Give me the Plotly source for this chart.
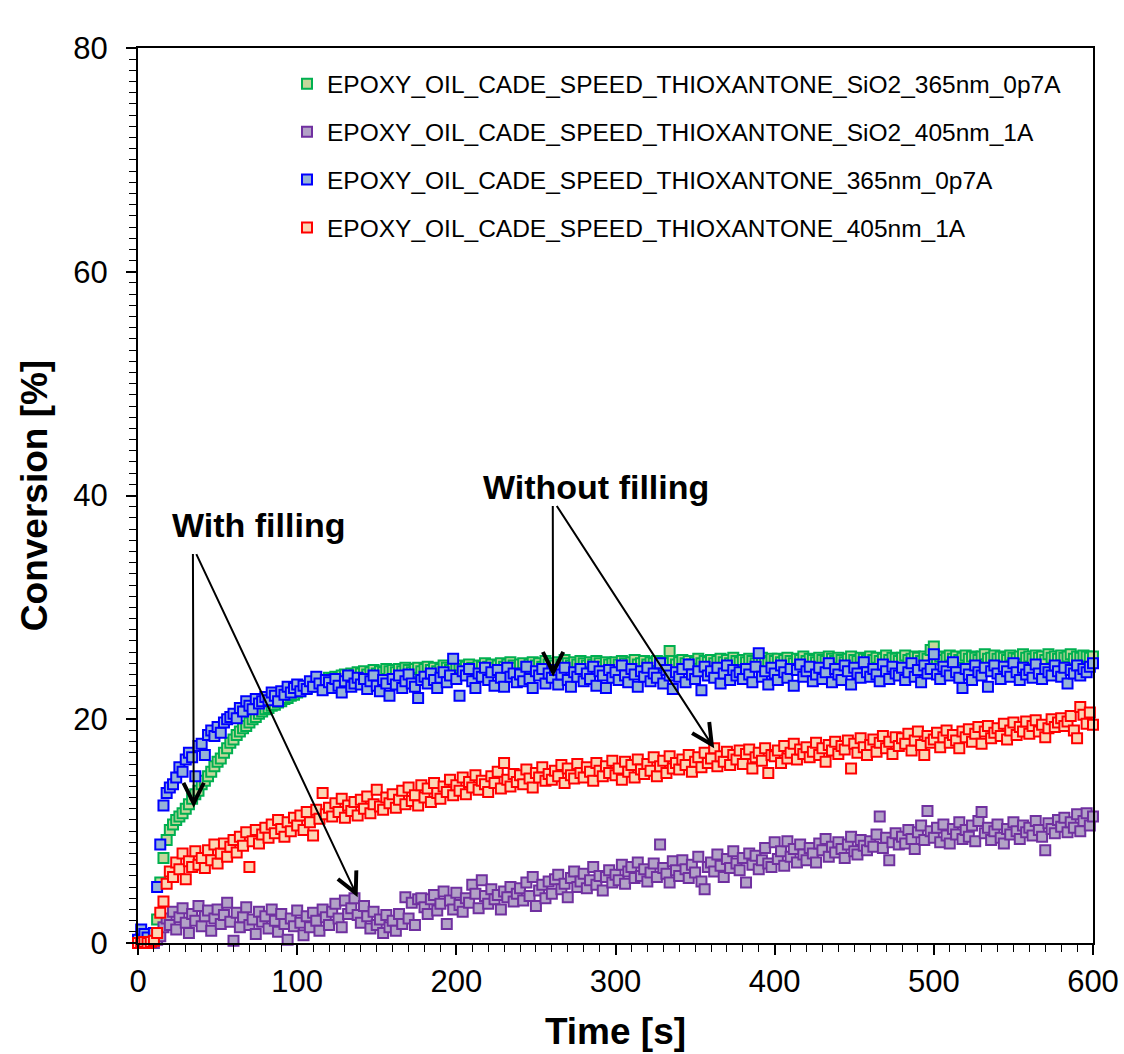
import plotly.graph_objects as go

# Sampling times [s]
TIME_S = list(range(0, 601, 2))

# Conversion [%] for each formulation, one value per sampling time
CONV_SIO2_365 = [
    0.0, 0.2, 0.1, 0.3, 0.2, 0.4, 2.1, 5.4, 7.6, 9.2,
    10.1, 10.6, 11.0, 11.3, 11.6, 12.0, 12.4, 12.9, 13.3, 13.6,
    14.2, 14.5, 14.9, 15.3, 15.8, 16.2, 16.5, 17.0, 17.4, 17.9,
    18.2, 18.6, 18.9, 19.2, 19.4, 19.7, 20.0, 20.2, 20.5, 20.7,
    20.9, 21.0, 21.2, 21.3, 21.5, 21.6, 21.8, 21.9, 22.1, 22.2,
    22.4, 22.5, 22.7, 22.8, 22.9, 23.1, 23.2, 23.2, 23.4, 23.4,
    23.7, 23.6, 23.8, 23.7, 23.9, 24.0, 23.8, 24.1, 24.0, 24.2,
    24.1, 24.3, 24.0, 24.2, 24.4, 24.1, 24.3, 24.2, 24.5, 24.3,
    24.4, 24.2, 24.5, 24.3, 24.6, 24.4, 24.2, 24.5, 24.6, 24.3,
    24.5, 24.7, 24.4, 24.6, 24.3, 24.5, 24.8, 24.6, 24.4, 24.7,
    24.6, 24.8, 24.5, 24.7, 24.9, 24.6, 24.4, 24.8, 24.7, 25.0,
    24.7, 24.9, 24.6, 24.8, 25.0, 24.7, 24.9, 25.1, 24.8, 24.6,
    24.9, 25.0, 24.7, 24.9, 25.1, 24.8, 25.0, 24.7, 25.2, 24.9,
    25.0, 24.8, 25.1, 24.9, 25.3, 25.0, 24.8, 25.1, 24.9, 25.2,
    25.0, 24.8, 25.1, 24.9, 25.2, 25.0, 24.7, 25.1, 24.9, 25.0,
    25.1, 24.9, 25.2, 25.0, 24.8, 25.1, 25.3, 24.9, 25.0, 25.2,
    24.9, 25.1, 25.0, 25.2, 24.8, 25.1, 25.0, 26.1, 25.2, 24.9,
    25.1, 25.3, 25.0, 25.2, 24.9, 25.1, 25.4, 25.0, 25.2, 25.1,
    25.3, 25.0, 25.2, 25.4, 25.1, 25.3, 25.0, 25.5, 25.2, 25.1,
    25.3, 25.1, 25.4, 25.2, 25.0, 25.3, 25.5, 25.2, 25.1, 25.4,
    25.2, 25.4, 25.1, 25.3, 25.5, 25.2, 25.0, 25.4, 25.3, 25.6,
    25.2, 25.4, 25.3, 25.1, 25.5, 25.3, 25.2, 25.6, 25.4, 25.2,
    25.5, 25.3, 25.1, 25.4, 25.6, 25.3, 25.2, 25.5, 25.4, 25.3,
    25.6, 25.3, 25.5, 25.2, 25.4, 25.7, 25.3, 25.5, 25.4, 25.2,
    25.5, 25.7, 25.3, 25.4, 25.6, 25.5, 25.2, 25.6, 25.4, 26.2,
    26.5, 25.4, 25.6, 25.3, 25.5, 25.7, 25.4, 25.6, 25.3, 25.5,
    25.7, 25.4, 25.6, 25.5, 25.3, 25.6, 25.8, 25.4, 25.5, 25.7,
    25.4, 25.6, 25.5, 25.3, 25.7, 25.5, 25.4, 25.6, 25.8, 25.5,
    25.6, 25.4, 25.7, 25.5, 25.6, 25.3, 25.8, 25.5, 25.6, 25.4,
    25.7, 25.5, 25.6, 25.8, 25.4, 25.6, 25.5, 25.7, 25.6, 25.5,
    25.6,
]

CONV_SIO2_405 = [
    0.0, 0.1, 0.0, 0.2, 0.1, 0.0, 0.3, 0.6, 1.4, 2.2,
    1.6, 2.8, 1.2, 2.3, 3.1, 1.8, 0.9, 2.6, 2.0, 3.3,
    1.5, 2.4, 2.9, 1.1, 2.2, 3.0, 1.7, 2.5, 3.6, 1.9,
    0.2, 2.7, 1.4, 2.3, 3.2, 1.6, 2.1, 0.8, 2.8, 1.9,
    2.4, 1.3, 3.0, 2.0, 1.0, 2.6, 1.7, 0.3, 2.2, 1.5,
    2.9, 1.8, 0.7, 2.4, 1.4, 2.7, 2.0, 1.1, 3.0, 2.3,
    1.6, 2.8, 3.5, 2.2, 1.4, 3.8, 2.6, 3.1, 4.0, 2.5,
    1.8, 3.3, 2.4, 1.3, 2.8, 1.6, 2.1, 0.9, 2.5, 1.4,
    2.0, 1.1, 2.6, 1.7, 4.1, 2.2, 3.6, 1.6, 3.9, 4.0,
    3.2, 2.6, 3.9, 4.3, 2.9, 3.5, 4.6, 1.7, 3.8, 3.0,
    4.5, 3.4, 2.8, 4.0, 3.6, 5.2, 4.4, 3.1, 5.6, 4.2,
    3.5, 4.8, 3.9, 4.3, 3.0, 4.6, 4.1, 5.0, 3.7, 4.4,
    4.9, 3.8, 5.4, 4.2, 5.9, 3.3, 4.7, 5.2, 4.0, 5.5,
    4.4, 5.7, 6.1, 4.8, 5.3, 4.1, 5.8, 6.4, 5.0, 5.5,
    6.2, 4.9, 5.6, 6.8, 5.2, 6.0, 4.7, 5.9, 6.5, 5.4,
    6.1, 5.6, 7.0, 5.3, 6.4, 6.8, 5.8, 7.2, 6.0, 6.6,
    5.5, 6.3, 7.1, 5.9, 8.8, 6.7, 6.2, 5.4, 7.3, 6.5,
    6.0, 7.4, 6.6, 5.8, 7.0, 6.3, 7.7, 5.5, 4.8, 6.8,
    7.2, 6.4, 7.9, 6.9, 5.9, 7.5, 6.7, 8.2, 7.1, 6.5,
    7.6, 5.4, 8.0, 7.0, 7.8, 6.6, 7.4, 8.5, 7.1, 6.8,
    9.0, 7.5, 8.2, 6.9, 9.1, 7.7, 8.4, 7.2, 8.8, 7.9,
    7.4, 8.5, 8.0, 7.2, 8.9, 8.3, 9.3, 7.7, 8.6, 8.1,
    9.0, 8.4, 7.6, 8.8, 9.5, 8.2, 7.9, 9.2, 8.7, 8.3,
    9.1, 8.6, 9.7, 11.3, 8.5, 9.4, 7.4, 9.0, 9.8, 8.8,
    9.5, 8.9, 10.1, 9.3, 8.4, 9.9, 10.5, 9.2, 11.8, 10.0,
    9.4, 10.3, 9.0, 10.6, 9.6, 8.9, 10.2, 9.7, 10.8, 9.3,
    10.1, 9.5, 10.5, 9.1, 10.9, 11.7, 9.8, 10.3, 9.2, 10.0,
    10.6, 9.4, 8.9, 10.2, 9.7, 10.8, 10.0, 9.3, 10.5, 9.9,
    10.3, 9.6, 10.9, 10.1, 9.5, 8.3, 10.7, 10.2, 9.8, 11.0,
    10.4, 11.2, 9.9, 10.8, 10.3, 11.5, 10.0, 10.9, 11.6, 10.5,
    11.3,
]

CONV_365 = [
    0.3, 1.2, 0.8, 0.5, 0.1, 0.9, 5.0, 8.8, 12.3, 13.4,
    13.9, 14.2, 14.8, 15.7, 15.3, 16.4, 17.0, 16.6, 14.9, 17.6,
    17.8, 16.8, 18.6, 19.0, 18.5, 19.3, 18.8, 19.7, 20.0, 20.2,
    20.5, 20.1, 21.0, 20.7, 21.6, 21.2, 20.9, 21.8, 21.4, 21.6,
    22.0, 21.7, 22.4, 22.1, 21.6, 22.5, 22.2, 22.9, 22.4, 22.8,
    23.1, 22.5, 23.0, 22.7, 23.4, 22.9, 23.8, 23.2, 22.6, 23.5,
    23.3, 22.8, 23.6, 23.0, 22.4, 23.4, 23.9, 22.9, 23.2, 23.7,
    23.1, 23.6, 22.7, 23.4, 23.9, 23.0, 22.5, 23.5, 23.2, 22.1,
    23.6, 23.1, 23.9, 22.8, 23.4, 24.0, 23.2, 22.9, 21.9, 23.5,
    23.8, 23.2, 24.1, 23.5, 22.8, 23.7, 24.2, 23.3, 23.9, 25.4,
    23.6, 22.1, 24.3, 23.9, 24.5, 23.4, 22.8, 24.1, 23.8, 24.6,
    23.5, 24.2, 23.0, 24.4, 23.7, 22.9, 24.6, 23.8, 24.1, 23.3,
    24.0, 23.4, 24.7, 23.6, 22.8, 24.3, 23.9, 24.5, 23.2, 24.1,
    23.7, 24.4, 23.1, 24.0, 24.6, 23.5, 22.9, 24.2, 23.8, 24.5,
    23.4, 24.1, 23.6, 24.7, 23.0, 24.3, 23.9, 22.8, 24.4, 23.7,
    24.2, 23.5, 24.8, 23.9, 23.3, 24.5, 24.0, 22.9, 24.3, 23.8,
    24.6, 23.4, 24.1, 23.7, 25.0, 23.2, 24.4, 23.9, 22.7, 24.2,
    23.8, 24.5, 23.3, 24.9, 24.0, 23.6, 24.3, 22.6, 24.7, 23.9,
    24.3, 23.7, 24.6, 23.2, 24.1, 24.8, 23.5, 24.4, 23.9, 24.2,
    23.6, 24.5, 24.0, 23.3, 24.7, 25.9, 23.8, 24.3, 23.1, 24.6,
    24.1, 23.5, 24.8, 24.2, 23.7, 24.5, 23.0, 24.4, 24.9, 23.8,
    24.3, 24.7, 23.4, 24.0, 24.6, 23.6, 24.2, 25.0, 23.3, 24.5,
    24.0, 23.5, 24.8, 24.3, 23.1, 24.6, 24.1, 23.7, 25.1, 24.2,
    23.8, 24.5, 24.0, 23.4, 24.9, 24.3, 23.6, 24.7, 24.1, 23.9,
    24.6, 23.5, 24.2, 25.0, 23.8, 24.4, 23.3, 24.8, 24.1, 24.5,
    25.8, 24.0, 23.6, 24.7, 24.3, 23.9, 25.1, 24.2, 23.7, 22.8,
    24.5, 24.0, 23.5, 24.8, 24.2, 23.9, 24.6, 22.9, 24.3, 24.8,
    24.1, 23.6, 24.7, 24.3, 23.8, 25.0, 24.2, 23.5, 24.6, 24.0,
    24.4, 23.7, 24.9, 24.1, 23.6, 24.5, 24.2, 23.9, 24.8, 24.3,
    23.8, 24.6, 23.2, 24.4, 24.1, 24.8, 23.9, 24.5, 24.2, 24.7,
    25.0,
]

CONV_405 = [
    0.0, 0.0, 0.1, 0.0, 0.1, 0.2, 0.9, 2.7, 3.7, 5.3,
    6.4, 5.9, 7.2, 6.6, 8.0, 5.7, 7.3, 6.8, 8.2, 7.0,
    7.6, 6.7, 8.3, 7.4, 8.8, 7.1, 8.0, 8.9, 7.7, 8.6,
    9.2, 8.1, 9.5, 8.7, 9.9, 6.8, 9.1, 10.1, 8.9, 9.7,
    10.3, 9.4, 10.6, 9.8, 11.0, 10.2, 9.5, 10.8, 10.0, 11.2,
    10.5, 11.4, 10.1, 11.7, 10.8, 9.6, 11.9, 11.1, 13.4, 11.5,
    12.1, 11.3, 12.5, 11.7, 12.9, 11.2, 12.3, 11.8, 12.6, 11.4,
    12.8, 12.0, 13.1, 11.6, 12.4, 13.7, 12.2, 11.9, 13.0, 12.5,
    13.3, 12.1, 12.8, 13.6, 12.4, 13.9, 12.7, 13.2, 12.3, 14.1,
    13.0, 13.8, 12.6, 14.3, 13.4, 12.9, 14.0, 13.5, 14.6, 13.2,
    14.1, 13.6, 14.8, 13.3, 14.4, 13.9, 15.0, 13.7, 14.5, 14.2,
    13.5, 14.9, 14.3, 15.3, 13.8, 16.1, 14.6, 14.0, 15.1, 14.4,
    15.0, 14.2, 15.5, 14.7, 13.9, 15.2, 14.8, 15.7, 14.5, 15.1,
    14.6, 15.4, 14.9, 15.9, 14.3, 15.6, 15.0, 14.7, 16.0, 15.2,
    14.8, 15.7, 15.3, 14.5, 16.1, 15.4, 14.9, 15.8, 15.2, 16.3,
    15.0, 15.6, 14.6, 16.2, 15.3, 15.9, 14.8, 16.4, 15.5, 15.1,
    16.0, 15.4, 16.6, 14.9, 15.8, 16.3, 15.2, 16.7, 15.6, 16.1,
    15.5, 16.4, 15.9, 16.8, 15.3, 16.2, 16.6, 15.7, 17.0, 16.1,
    16.5, 17.4, 15.8, 16.7, 16.2, 17.1, 15.9, 16.8, 16.4, 17.2,
    16.0, 16.9, 17.3, 15.6, 16.6, 17.0, 16.3, 17.4, 15.2, 16.8,
    16.7, 17.2, 16.1, 17.6, 16.5, 17.0, 17.8, 16.4, 17.3, 16.9,
    17.5, 16.6, 17.1, 17.9, 16.8, 17.4, 16.2, 17.7, 17.2, 18.0,
    16.9, 17.6, 17.3, 18.1, 15.6, 17.8, 17.0, 18.3, 17.5, 16.8,
    17.7, 18.2, 17.1, 17.9, 18.5, 17.4, 18.0, 16.9, 18.4, 17.6,
    18.3, 17.8, 18.7, 17.2, 18.1, 18.9, 17.7, 16.8, 18.5, 17.9,
    18.2, 18.8, 17.5, 18.4, 19.0, 17.9, 18.6, 18.1, 17.4, 18.9,
    18.4, 19.1, 18.0, 18.7, 19.3, 17.8, 18.9, 19.4, 18.3, 18.8,
    19.2, 18.5, 19.6, 18.2, 19.0, 19.7, 18.6, 19.3, 18.9, 19.8,
    18.7, 19.4, 19.9, 18.9, 19.5, 18.4, 19.2, 20.0, 19.3, 19.7,
    20.1, 19.4, 19.8, 20.3, 19.0, 18.3, 21.1, 20.4, 19.6, 20.6,
    19.5,
]

SERIES = [
    ("EPOXY_OIL_CADE_SPEED_THIOXANTONE_SiO2_365nm_0p7A", CONV_SIO2_365, "#c4d79b", "#00b050"),
    ("EPOXY_OIL_CADE_SPEED_THIOXANTONE_SiO2_405nm_1A", CONV_SIO2_405, "#b3a2c7", "#7030a0"),
    ("EPOXY_OIL_CADE_SPEED_THIOXANTONE_365nm_0p7A", CONV_365, "#95b3d7", "#0000ff"),
    ("EPOXY_OIL_CADE_SPEED_THIOXANTONE_405nm_1A", CONV_405, "#fcd5b4", "#ff0000"),
]

FONT = "Liberation Sans, Arial, Helvetica, sans-serif"

fig = go.Figure()
for i, (name, values, fill, edge) in enumerate(SERIES):
    fig.add_trace(go.Scatter(
        x=TIME_S, y=values, name=name, mode="markers",
        legendgroup=f"g{i}",
        cliponaxis=False,
        marker=dict(symbol="square", size=10, color=fill,
                    line=dict(color=edge, width=2)),
    ))

# Labels and pointer arrows
def arrow(tail, head):
    fig.add_annotation(
        x=head[0], y=head[1], ax=tail[0], ay=tail[1],
        xref="x", yref="y", axref="x", ayref="y",
        text="", showarrow=True, arrowhead=5, arrowsize=2.0,
        arrowwidth=2, arrowcolor="black",
    )

fig.add_annotation(x=76, y=37.4, xref="x", yref="y", text="<b>With filling</b>",
                   showarrow=False, font=dict(family=FONT, size=34, color="black"))
fig.add_annotation(x=287.5, y=40.8, xref="x", yref="y", text="<b>Without filling</b>",
                   showarrow=False, font=dict(family=FONT, size=34, color="black"))
arrow((34.5, 34.9), (35.0, 12.1))
arrow((36.2, 34.9), (138.0, 4.1))
arrow((260.6, 39.2), (260.8, 23.8))
arrow((262.5, 39.2), (362.0, 17.4))

axis_common = dict(
    showline=True, linecolor="black", linewidth=2, mirror=True,
    showgrid=False, zeroline=False, automargin=False,
    ticks="outside", ticklen=10, tickwidth=1.5, tickcolor="black",
    tickfont=dict(family=FONT, size=31, color="black"),
)

fig.update_xaxes(
    range=[0, 600], dtick=100, tick0=0,
    minor=dict(ticks="outside", ticklen=7, dtick=10, tickcolor="black", tickwidth=1.2),
    title=dict(text="<b>Time [s]</b>", font=dict(family=FONT, size=37, color="black"), standoff=20),
    **axis_common,
)
fig.update_yaxes(
    range=[0, 80], dtick=20, tick0=0,
    minor=dict(ticks="outside", ticklen=7, dtick=1, tickcolor="black", tickwidth=1.2),
    title=dict(text="<b>Conversion [%]</b>", font=dict(family=FONT, size=37, color="black"), standoff=14),
    ticklabelstandoff=12,
    **axis_common,
)

fig.update_layout(
    width=1124, height=1054,
    margin=dict(l=138, r=31, t=48, b=111),
    paper_bgcolor="white", plot_bgcolor="white",
    font=dict(family=FONT, color="black"),
    legend=dict(
        x=0.156, y=0.985, xanchor="left", yanchor="top",
        traceorder="grouped", tracegroupgap=13,
        font=dict(family=FONT, size=24.5, color="black"),
        bgcolor="rgba(0,0,0,0)", borderwidth=0,
    ),
)

fig.write_html("out.html")
